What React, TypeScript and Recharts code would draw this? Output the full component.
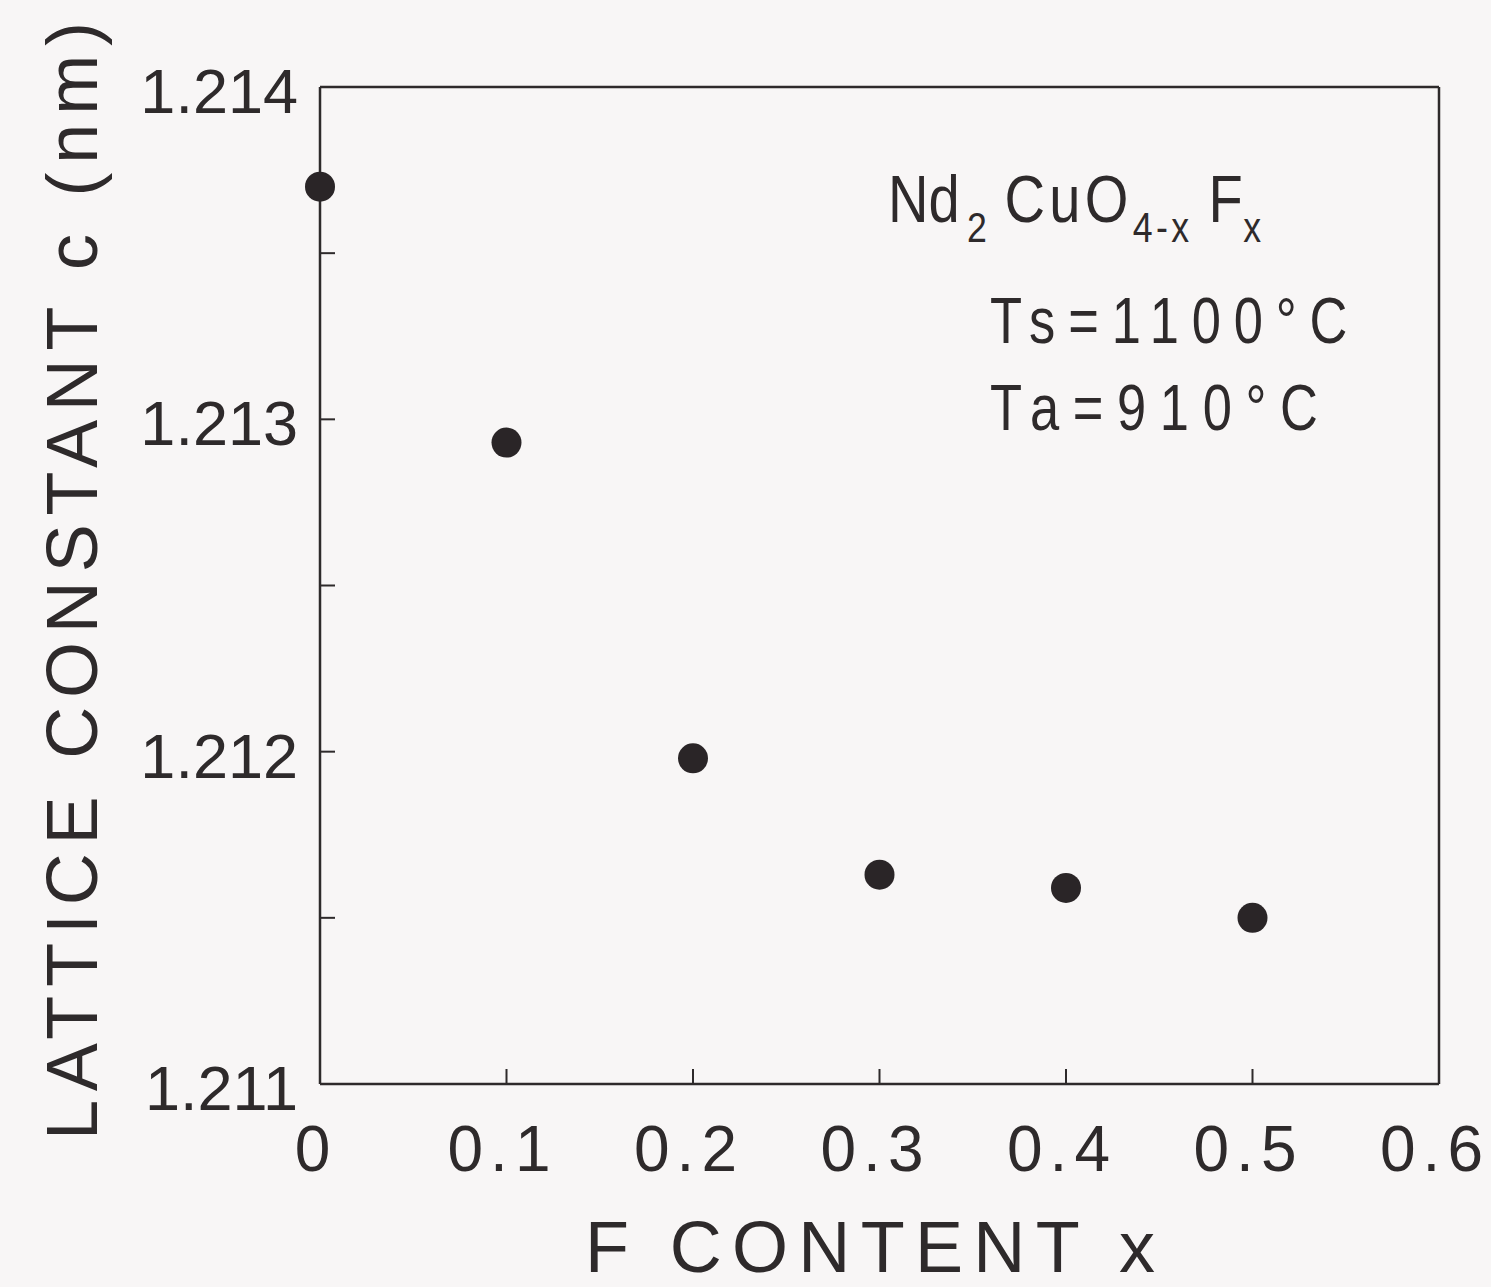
import { ScatterChart, Scatter, XAxis, YAxis } from 'recharts';

// F content x vs lattice constant c (nm)
const fContent = [0, 0.1, 0.2, 0.3, 0.4, 0.5];
const latticeC = [1.2137, 1.21293, 1.21198, 1.21163, 1.21159, 1.2115];

const xTicks = [0, 0.1, 0.2, 0.3, 0.4, 0.5, 0.6];
const xTickLabels = ['0', '0.1', '0.2', '0.3', '0.4', '0.5', '0.6'];
const yTicks = [1.211, 1.2115, 1.212, 1.2125, 1.213, 1.2135, 1.214];
const yTickLabels = ['1.211', '', '1.212', '', '1.213', '', '1.214'];

const points = fContent.map((x, i) => ({ x, c: latticeC[i] }));

const INK = '#2e2a2b';
const FONT = '"Liberation Sans", Arial, Helvetica, sans-serif';
const TICK_LEN = 15;

function BottomTick(props: any) {
  const { x, y, index } = props;
  return (
    <g>
      <line x1={x} y1={y} x2={x} y2={y - TICK_LEN} stroke={INK} strokeWidth={2} />
      <text
        x={x - 4}
        y={y + 87}
        textAnchor="middle"
        fontSize={64}
        letterSpacing={7}
        fontFamily={FONT}
        fill={INK}
      >
        {xTickLabels[index]}
      </text>
    </g>
  );
}

function TopTick(props: any) {
  const { x, y } = props;
  return <line x1={x} y1={y} x2={x} y2={y + TICK_LEN} stroke={INK} strokeWidth={2} />;
}

function LeftTick(props: any) {
  const { x, y, index } = props;
  return (
    <g>
      <line x1={x} y1={y} x2={x + TICK_LEN} y2={y} stroke={INK} strokeWidth={2} />
      <text x={x - 22} y={y + 26} textAnchor="end" fontSize={63} fontFamily={FONT} fill={INK}>
        {yTickLabels[index]}
      </text>
    </g>
  );
}

function RightTick(props: any) {
  const { x, y } = props;
  return <line x1={x} y1={y} x2={x - TICK_LEN} y2={y} stroke={INK} strokeWidth={2} />;
}

function Dot(props: any) {
  const { cx, cy } = props;
  return <circle cx={cx} cy={cy} r={15} fill="#2a2527" />;
}

export default function App() {
  return (
    <div style={{ position: 'absolute', left: 0, top: 0, width: 1491, height: 1287, background: '#f8f6f6' }}>
      <ScatterChart width={1491} height={1287} margin={{ top: 86, right: 51, bottom: 202, left: 319 }}>
        <XAxis
          xAxisId="bottom"
          dataKey="x"
          type="number"
          domain={[0, 0.6]}
          ticks={xTicks}
          height={1}
          tickSize={0}
          tickMargin={0}
          tickLine={false}
          tick={<BottomTick />}
          stroke={INK}
          strokeWidth={2.5}
          interval={0}
        />
        <XAxis
          xAxisId="top"
          orientation="top"
          type="number"
          domain={[0, 0.6]}
          ticks={xTicks}
          height={1}
          tickSize={0}
          tickMargin={0}
          tickLine={false}
          tick={<TopTick />}
          stroke={INK}
          strokeWidth={2.5}
          interval={0}
        />
        <YAxis
          yAxisId="left"
          dataKey="c"
          type="number"
          domain={[1.211, 1.214]}
          ticks={yTicks}
          width={1}
          tickSize={0}
          tickMargin={0}
          tickLine={false}
          tick={<LeftTick />}
          stroke={INK}
          strokeWidth={2.5}
          interval={0}
        />
        <YAxis
          yAxisId="right"
          orientation="right"
          type="number"
          domain={[1.211, 1.214]}
          ticks={yTicks}
          width={1}
          tickSize={0}
          tickMargin={0}
          tickLine={false}
          tick={<RightTick />}
          stroke={INK}
          strokeWidth={2.5}
          interval={0}
        />
        <Scatter
          xAxisId="bottom"
          yAxisId="left"
          data={points}
          shape={<Dot />}
          isAnimationActive={false}
        />
      </ScatterChart>

      {/* titles and annotation text */}
      <svg
        width={1491}
        height={1287}
        style={{ position: 'absolute', left: 0, top: 0, pointerEvents: 'none' }}
        fontFamily={FONT}
        fill={INK}
      >
        <text x={585} y={1272} fontSize={72} textLength={570} lengthAdjust="spacing">
          F CONTENT x
        </text>
        <text
          x={0}
          y={0}
          fontSize={72}
          textLength={1118}
          lengthAdjust="spacing"
          transform="translate(97,1140) rotate(-90)"
        >
          LATTICE CONSTANT c (nm)
        </text>

        <text transform="translate(888,222) scale(0.85,1)" fontSize={66}>
          <tspan x={0} y={0}>Nd</tspan>
          <tspan x={93} y={20} fontSize={42}>2</tspan>
          <tspan x={137} y={0} letterSpacing={5}>CuO</tspan>
          <tspan x={288} y={20} fontSize={42} letterSpacing={4}>4-x</tspan>
          <tspan x={377} y={0}>F</tspan>
          <tspan x={418} y={20} fontSize={42}>x</tspan>
        </text>

        <text transform="translate(990,343) scale(0.82,1)" fontSize={64} textLength={436} lengthAdjust="spacing">
          Ts=1100°C
        </text>
        <text transform="translate(990,430) scale(0.82,1)" fontSize={64} textLength={400} lengthAdjust="spacing">
          Ta=910°C
        </text>
      </svg>
    </div>
  );
}
